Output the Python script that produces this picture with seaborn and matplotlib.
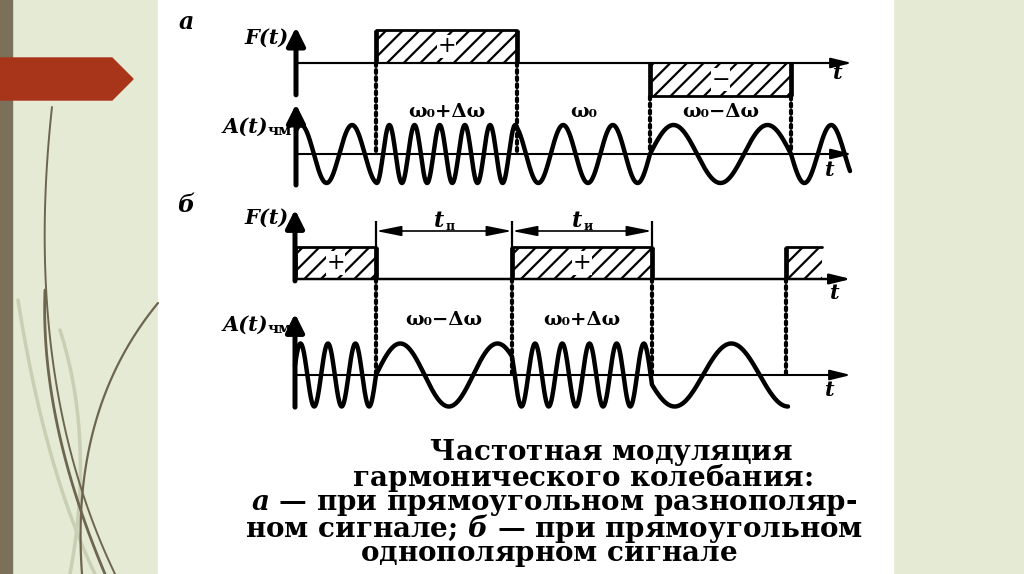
import numpy as np
import pandas as pd
import matplotlib.pyplot as plt
import seaborn as sns
from matplotlib.patches import Polygon, ConnectionPatch

# ---- data (time axis in arbitrary units) ----
# a: bipolar rectangular signal F(t) and the FM carrier
edges_a = [0, 8.0, 22.1, 35.4, 49.5, 55.4]
levels_a = [0, 1, 0, -1, 0]
signs_a = ["", "+", "", "−", ""]
cycles_a = [1.57, 5.6, 2.68, 1.5, 1.1]     # carrier cycles in each segment
phase0_a = 0.15
freq_labels_a = ["", "ω₀+Δω", "ω₀", "ω₀−Δω", ""]

# b: unipolar rectangular signal
edges_b = [0, 8.1, 21.7, 35.7, 49.1, 52.7]
levels_b = [1, 0, 1, 0, 1]
signs_b = ["+", "", "+", "", ""]
wave_edges_b = [0, 8.1, 21.7, 35.7, 49.3]
cycles_b = [2.95, 1.4, 5.15, 1.2]
phase0_b = 0.05
freq_labels_b = ["", "ω₀−Δω", "ω₀+Δω", ""]
dim_from = [8.1, 21.7]
dim_to = [21.7, 35.7]
dim_sub = ["п", "и"]
t_end = 55.6

# every line goes through mathtext so that all lines get the same metrics
caption = [
    " " * 12 + "Частотная модуляция$\\mathit{}$",
    " " * 6 + "гармонического колебания:$\\mathit{}$",
    "$\\mathit{а}$ — при прямоугольном разнополяр-",
    "ном сигнале; $\\mathit{б}$ — при прямоугольном",
    "однополярном сигнале  $\\mathit{}$",
]

W, H = 1024, 574
sns.set_style("white")
plt.rcParams["hatch.linewidth"] = 1.6
plt.rcParams["text.color"] = "black"
plt.rcParams["mathtext.fontset"] = "custom"
plt.rcParams["mathtext.it"] = "DejaVu Serif:italic:bold"
SERIF = ["DejaVu Serif", "DejaVu Sans"]

fig = plt.figure(figsize=(W / 100, H / 100), dpi=100)
fig.patch.set_facecolor("#e4ead4")

# slide background
bg = fig.add_axes([0, 0, 1, 1])
bg.set_xlim(0, W)
bg.set_ylim(H, 0)
bg.axis("off")
bg.axvspan(158, 893, color="white")
bg.axvspan(0, 12, color="#7b705a")
bg.add_patch(Polygon([(0, 58), (112, 58), (133, 79), (112, 100), (0, 100)],
                     closed=True, color="#a8341a"))

# grass-like strokes on the left
def bezier(p0, p1, p2, n=80):
    s = np.linspace(0, 1, n)[:, None]
    p0, p1, p2 = map(np.array, (p0, p1, p2))
    return (1 - s) ** 2 * p0 + 2 * (1 - s) * s * p1 + s ** 2 * p2

strokes = [
    ((60, 330), (95, 440), (70, 574), "#c8cfb3", 2.5),
    ((18, 300), (45, 470), (95, 574), "#c8cfb3", 2.5),
    ((52, 107), (22, 380), (115, 574), "#6e654f", 1.4),
    ((45, 290), (40, 420), (105, 574), "#6e654f", 2.0),
    ((158, 303), (70, 410), (82, 574), "#6e654f", 1.6),
]
for a, b_, c, col, lw in strokes:
    pts = bezier(a, b_, c)
    bg.plot(pts[:, 0], pts[:, 1], color=col, lw=lw, solid_capstyle="round")


def signal_axes(origin_px, yc_px, ppu, ylim):
    left = origin_px - 10
    bottom_px = yc_px - ylim[0] * ppu
    h = (ylim[1] - ylim[0]) * ppu
    ax = fig.add_axes([left / W, 1 - bottom_px / H, 580 / W, h / H])
    ax.set_xlim(-1, 57)
    ax.set_ylim(*ylim)
    ax.axis("off")
    ax.patch.set_alpha(0)
    return ax


def fm_wave(edges, cycles, phase0, n=300):
    ts, ys, ph = [], [], phase0
    for t0, t1, c in zip(edges[:-1], edges[1:], cycles):
        t = np.linspace(t0, t1, n)
        ts.append(t)
        ys.append(np.sin(2 * np.pi * (ph + c * (t - t0) / (t1 - t0))))
        ph += c
    return pd.DataFrame({"t": np.concatenate(ts), "A": np.concatenate(ys)})


def arrow(ax, xy, xytext, lw, head="-|>,head_length=0.9,head_width=0.22", ms=14):
    ax.annotate("", xy=xy, xytext=xytext, annotation_clip=False,
                arrowprops=dict(arrowstyle=head, lw=lw, color="black",
                                mutation_scale=ms, shrinkA=0, shrinkB=0))


def draw_F(ax, edges, levels, signs, open_last=False):
    n = len(levels)
    for i, (t0, t1, lv, sg) in enumerate(zip(edges[:-1], edges[1:], levels, signs)):
        if lv == 0:
            continue
        ax.fill_between([t0, t1], 0, lv, facecolor="white", hatch="//",
                        edgecolor="black", lw=0)
        ax.plot([t0, t1], [lv, lv], color="black", lw=2)
        sides = [t0] if (open_last and i == n - 1) else [t0, t1]
        ax.vlines(sides, 0, lv, color="black", lw=3.4)
        if sg:
            ax.text((t0 + t1) / 2, lv / 2, sg, ha="center", va="center",
                    fontsize=16, family=SERIF,
                    bbox=dict(fc="white", ec="none", pad=0.5))


def draw_A(ax, df, edges, labels, ylab):
    sns.lineplot(data=df, x="t", y="A", ax=ax, color="black", lw=3.2,
                 sort=False, estimator=None, legend=False)
    for t0, t1, lb in zip(edges[:-1], edges[1:], labels):
        if lb:
            ax.text((t0 + t1) / 2, ylab, lb, ha="center", va="center",
                    fontsize=14, fontweight="bold", family=SERIF)


def connectors(axF, axA, edges, levels, yA):
    for i, t in enumerate(edges[1:-1]):
        y0 = min(0, levels[i], levels[i + 1])
        con = ConnectionPatch(xyA=(t, y0), coordsA=axF.transData,
                              xyB=(t, yA), coordsB=axA.transData,
                              color="black", lw=3, linestyle=(0, (0.7, 1.0)))
        fig.add_artist(con)


# ---- panel a ----
axFa = signal_axes(296, 63, 33.5, (-1.3, 1.3))
axAa = signal_axes(296, 154, 29, (-1.75, 1.75))
axFa.plot([0, t_end - 1], [0, 0], color="black", lw=1.5)
arrow(axFa, (t_end, 0), (0, 0), 1.5)
draw_F(axFa, edges_a, levels_a, signs_a)
arrow(axFa, (0, 1.07), (0, -0.95), 3.6, head="-|>,head_length=0.5,head_width=0.25", ms=22)
arrow(axAa, (t_end, 0), (0, 0), 1.5)
draw_A(axAa, fm_wave(edges_a, cycles_a, phase0_a), edges_a, freq_labels_a, 1.45)
arrow(axAa, (0, 1.72), (0, -1.07), 3.6, head="-|>,head_length=0.5,head_width=0.25", ms=22)
connectors(axFa, axAa, edges_a, levels_a, 0.1)

# ---- panel b ----
axFb = signal_axes(295, 279, 32, (-0.5, 2.4))
axAb = signal_axes(295, 375, 31.5, (-1.6, 2.0))
arrow(axFb, (t_end, 0), (0, 0), 1.8)
draw_F(axFb, edges_b, levels_b, signs_b, open_last=True)
arrow(axFb, (0, 2.17), (0, -0.06), 3.6, head="-|>,head_length=0.5,head_width=0.25", ms=22)
axFb.vlines(sorted(set(dim_from + dim_to)), 0, 1.8, color="black", lw=1.6)
for t0, t1, sub in zip(dim_from, dim_to, dim_sub):
    arrow(axFb, (t1, 1.5), (t0, 1.5), 1.2,
          head="<|-|>,head_length=1.1,head_width=0.22", ms=14)
    mid = (t0 + t1) / 2
    axFb.text(mid, 1.82, "t", ha="right", va="center", fontsize=16,
              fontweight="bold", style="italic", family=SERIF)
    axFb.annotate(sub, xy=(mid, 1.82), xytext=(1, -4), textcoords="offset points",
                  ha="left", va="center", fontsize=9, fontweight="bold", family=SERIF)
arrow(axAb, (t_end, 0), (0, 0), 1.5)
draw_A(axAb, fm_wave(wave_edges_b, cycles_b, phase0_b), wave_edges_b, freq_labels_b, 1.75)
arrow(axAb, (0, 1.95), (0, -1.02), 3.6, head="-|>,head_length=0.5,head_width=0.25", ms=22)
connectors(axFb, axAb, edges_b, levels_b, 0)

# ---- axis labels ----
lab = dict(fontweight="bold", style="italic", family=SERIF, va="center")
bg.text(186, 22, "а", fontsize=17, ha="center", **lab)
bg.text(186, 205, "б", fontsize=17, ha="center", **lab)
bg.text(289, 38, "F(t)", fontsize=15, ha="right", **lab)
bg.text(289, 218, "F(t)", fontsize=15, ha="right", **lab)
for y in (127, 325):
    bg.text(268, y, "A(t)", fontsize=15, ha="right", **lab)
    bg.text(268, y + 4, "чм", fontsize=11, ha="left", fontweight="bold",
            family=SERIF, va="center")
for x, y in [(838, 73), (830, 170), (835, 293), (830, 390)]:
    bg.text(x, y, "t", fontsize=15, ha="center", **lab)

# ---- caption ----
bg.text(554, 503, "\n".join(caption), ha="center", va="center",
        multialignment="center", fontsize=20, fontweight="bold",
        family=SERIF, linespacing=0.76)

fig.savefig("out.png", dpi=100, facecolor=fig.get_facecolor())
